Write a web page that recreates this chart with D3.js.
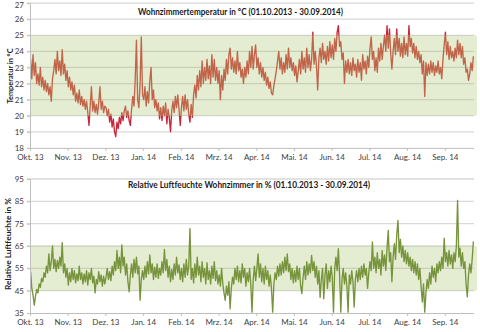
<!DOCTYPE html>
<html><head><meta charset="utf-8">
<script src="https://cdn.jsdelivr.net/npm/d3@7/dist/d3.min.js"></script>
<style>
body{margin:0;background:#fff}
svg{display:block}
text{font-family:Lato,"Open Sans","Liberation Sans",sans-serif}
</style></head>
<body><svg width="480" height="332"></svg>
<script>
// ---- data ----
const monthLabels = ["Okt. 13","Nov. 13","Dez. 13","Jan. 14","Feb. 14","Mrz. 14","Apr. 14","Mai. 14","Jun. 14","Jul. 14","Aug. 14","Sep. 14"];
const tickDays = [0,31,62,93,124,155,186,217,248,279,310,341];
const tempTicks = [18,19,20,21,22,23,24,25,26,27];
const humTicks = [35,45,55,65,75,85,95];
const tempBand = [20,25];
const humBand = [45,65];
const tempTitle = "Wohnzimmertemperatur in °C (01.10.2013 - 30.09.2014)";
const humTitle = "Relative Luftfeuchte Wohnzimmer in % (01.10.2013 - 30.09.2014)";
const tempAxisTitle = "Temperatur in °C";
const humAxisTitle = "Relative Luftfeuchte in %";

// daily readings, one value per day from 01.10.2013
const temperature = [
23.5,22.3,23.8,22.5,23.3,22.0,22.6,21.9,23.0,21.8,22.4,21.6,22.2,21.5,22.0,21.3,21.8,20.9,22.3,22.8,23.5,22.6,24.0,22.8,23.4,22.5,24.1,22.6,23.2,22.2,22.8,
21.8,22.4,21.6,22.1,21.3,21.9,20.9,21.4,20.8,21.6,20.7,21.2,20.6,21.0,20.4,20.9,20.2,19.4,20.6,21.8,20.3,20.9,20.2,20.7,20.1,20.8,21.8,20.4,20.9,20.2,20.6,
20.5,20.0,20.4,19.6,20.1,19.3,19.8,19.0,18.7,19.6,19.2,19.9,19.5,20.2,19.7,20.3,20.6,19.9,20.3,19.7,19.4,20.4,21.2,20.6,22.3,24.7,21.0,20.5,22.0,24.9,21.3,
21.0,21.8,20.6,21.5,20.8,22.2,23.0,21.0,21.6,20.5,21.0,20.3,20.8,19.8,20.5,19.7,20.6,20.0,20.8,19.5,20.4,19.9,19.0,20.3,20.9,20.2,21.2,20.5,21.3,20.4,19.4,
20.5,21.2,20.3,21.3,20.4,21.0,20.1,19.6,20.7,19.9,21.3,21.9,21.1,22.5,21.6,22.8,21.8,23.4,22.0,23.0,22.2,23.5,22.3,23.1,22.0,23.8,22.4,23.5,22.2,23.0,22.0,
22.8,21.0,22.5,21.6,22.9,22.2,23.5,22.6,23.8,24.2,22.9,23.6,22.7,23.4,22.6,24.0,22.8,23.3,22.4,22.9,22.0,23.0,22.4,23.4,22.6,24.0,23.0,24.3,22.9,23.8,24.4,
23.0,23.6,22.6,23.3,22.4,23.0,22.2,22.7,21.9,22.4,21.7,22.1,21.4,21.3,21.9,22.3,22.8,23.4,24.0,22.9,23.6,22.6,23.3,22.7,23.8,22.9,24.2,23.0,23.6,22.8,23.3,
22.5,23.1,22.1,22.8,23.5,22.6,24.0,22.9,23.6,22.7,24.2,23.0,23.8,22.8,23.5,25.2,23.2,24.0,23.1,21.6,23.6,24.2,23.3,24.5,23.5,24.0,23.2,24.3,23.4,24.6,23.6,
24.4,23.5,24.8,24.0,25.2,25.6,24.3,24.6,23.5,23.9,22.0,23.4,22.7,23.5,22.6,23.3,22.5,23.6,22.8,23.2,22.4,23.5,22.7,23.3,22.2,23.8,22.9,23.4,22.6,23.7,23.0,
24.2,24.9,23.5,24.0,22.8,23.6,22.7,24.2,23.4,24.5,23.5,24.3,25.0,24.0,25.6,24.2,25.4,23.9,22.9,24.0,24.8,23.8,25.4,24.0,24.8,23.7,24.5,23.6,24.9,23.8,24.5,
23.7,25.6,24.3,24.8,23.9,24.5,23.6,24.3,23.5,24.0,23.3,23.8,22.6,23.4,21.2,23.3,22.5,23.2,22.6,23.4,22.7,23.3,22.5,23.1,22.7,23.4,22.6,23.0,22.3,23.5,24.4,
25.2,23.8,24.6,23.5,24.3,23.6,24.0,23.4,24.2,23.6,24.7,23.8,24.5,23.6,24.3,23.2,23.6,22.7,22.9,22.2,22.6,23.3,22.8,23.7
];
const humidity = [
53.5,46,43,38.5,42.5,45.5,44,48,46.5,50.5,49,53,51,56,53,61.5,54,58,65,55,59,53.5,58.5,55,60,56,66.5,53,57,51,55,
47.5,53,49,55,50,54,48.5,52.5,49.5,56,50,53,48,52.5,49,54,47.5,53,50,55,48.5,51.5,44,50,48,53.5,49,52,47,51.5,48,
51,55,50,53.5,49.5,56,52,58,54,63,55,60,53,65.5,56,60,52,57,49,44.5,52,57,51,59,53,60,52.5,56,40.7,50,54,
50,56,51,58,52.5,61,53,57,50,55.5,51,57,50.5,55,52,58,53,63.5,54,59,51,56,49,54.5,50,57,52,60,53,56.5,50,
55,49,57,51,59,52,56,72.8,50,55,48.5,57,51,60,52,56,49,58,51,55,48,57.5,50,54,48,56,50.5,58,49.5,54,48,
52,47,55,48,44,40.7,47,43,49,36.9,46,51,48,55,50,56,49,54,48.5,57,51,55,47,53,49,55,48,35.4,50,56,49.5,
55,61.5,51,57,49,55,48,56,50,54,47,52,46,35.4,48,53,50,56,51.5,57,52,58,53,60,54,61.5,53.5,57,50,55,48.5,
54,49,56,50,55,47,43.7,51,56,50,58,52,57,53,60.8,54,58,51,56,48,54,42,50,55,41.4,52,57,46,54,49,56,
51,35.4,55,60,54,63.8,52,35.4,50,55,48,53,47,35.4,52,48,54,49,37.7,50,54,49,55,50,56,51,57,52,55,46,53,
58,54,66.8,55,60,53,62,55,59,52,63,56,61,54,64,72,58,62,49,60,66,59,70,76.5,62,68,60,65,58,63,57,
62,56,60,54,59,53,58,52,57,50,55,47,40,48,35.4,44,50,46,53,48,56,51,55,49,57,53,58,54,60,55,68.5,
58,62,56,63,57,61,55,62,58,65,85.4,60,64,56,62,55,58,48,42.2,52,57,53,59,67
];

// ---- drawing ----
const svg = d3.select("svg");
const x = d3.scaleLinear().domain([0, 365]).range([30, 474]);

function panel(cfg) {
  const y = d3.scaleLinear().domain(d3.extent(cfg.ticks)).range(cfg.yRange);
  const g = svg.append("g");
  const bot = y(cfg.ticks[0]);

  // gridlines
  g.selectAll("line.grid").data(cfg.ticks.slice(1)).join("line")
    .attr("x1", 27).attr("x2", x(365))
    .attr("y1", d => y(d)).attr("y2", d => y(d))
    .attr("stroke", "#d9d9d9").attr("stroke-width", 1.3);

  // comfort band
  g.append("rect")
    .attr("x", x(0)).attr("width", x(365) - x(0) + 3)
    .attr("y", y(cfg.band[1])).attr("height", y(cfg.band[0]) - y(cfg.band[1]))
    .attr("fill", "rgba(155,187,89,0.27)");

  const line = d3.line().x((d, i) => x(i + 0.5)).y(d => y(d));
  const sw = 1.35;

  if (cfg.outColor) {
    const idIn = cfg.id + "in", idOut = cfg.id + "out";
    const defs = svg.append("defs");
    defs.append("clipPath").attr("id", idIn).append("rect")
      .attr("x", 0).attr("width", 480)
      .attr("y", y(cfg.band[1])).attr("height", y(cfg.band[0]) - y(cfg.band[1]));
    const co = defs.append("clipPath").attr("id", idOut);
    co.append("rect").attr("x", 0).attr("width", 480).attr("y", 0).attr("height", y(cfg.band[1]));
    co.append("rect").attr("x", 0).attr("width", 480).attr("y", y(cfg.band[0])).attr("height", 332 - y(cfg.band[0]));
    g.append("path").datum(cfg.values).attr("d", line).attr("fill", "none")
      .attr("stroke", cfg.color).attr("stroke-width", sw).attr("stroke-linejoin", "round")
      .attr("clip-path", `url(#${idIn})`);
    g.append("path").datum(cfg.values).attr("d", line).attr("fill", "none")
      .attr("stroke", cfg.outColor).attr("stroke-width", sw).attr("stroke-linejoin", "round")
      .attr("clip-path", `url(#${idOut})`);
  } else {
    g.append("path").datum(cfg.values).attr("d", line).attr("fill", "none")
      .attr("stroke", cfg.color).attr("stroke-width", sw).attr("stroke-linejoin", "round");
  }

  // y axis
  const ya = g.append("g").attr("transform", `translate(${x(0)},0)`)
    .call(d3.axisLeft(y).tickValues(cfg.ticks).tickSize(3).tickPadding(3).tickFormat(d3.format("d")));
  ya.select(".domain").attr("stroke", "#bfbfbf");
  ya.selectAll(".tick line").attr("stroke", "#bfbfbf");
  ya.selectAll("text").attr("font-size", 8).attr("fill", "#404040")
    .attr("dy", d => (y(d) < 6 ? "0.55em" : "0.32em"));

  // x axis
  const xa = g.append("g").attr("transform", `translate(0,${bot})`)
    .call(d3.axisBottom(x).tickValues(tickDays).tickSize(3).tickPadding(3)
      .tickFormat((d, i) => monthLabels[i]));
  xa.select(".domain").attr("stroke", "#bfbfbf").attr("d", `M${x(0)},0.5H${x(365)}`);
  xa.selectAll(".tick line").attr("stroke", "#bfbfbf");
  xa.selectAll("text").attr("font-size", 8).attr("fill", "#404040");

  // titles
  g.append("text").attr("x", cfg.titleX).attr("y", cfg.titleY)
    .attr("text-anchor", "middle").attr("font-size", 8.6).attr("font-weight", "bold")
    .attr("fill", "#1a1a1a").attr("textLength", cfg.titleW).attr("lengthAdjust", "spacingAndGlyphs")
    .text(cfg.title);
  g.append("text").attr("transform", `translate(${cfg.axisTitleX},${cfg.axisTitleY}) rotate(-90)`)
    .attr("text-anchor", "middle").attr("font-size", 8.3).attr("font-weight", "bold")
    .attr("fill", "#1a1a1a").attr("textLength", cfg.axisTitleW).attr("lengthAdjust", "spacingAndGlyphs")
    .text(cfg.axisTitle);
}

panel({
  id: "t", ticks: tempTicks, yRange: [147.9, 3.1], band: tempBand, values: temperature,
  color: "#c0654a", outColor: "#c8283c",
  title: tempTitle, titleX: 240.5, titleY: 15, titleW: 205,
  axisTitle: tempAxisTitle, axisTitleX: 12.5, axisTitleY: 76, axisTitleW: 55
});
panel({
  id: "h", ticks: humTicks, yRange: [313, 179], band: humBand, values: humidity,
  color: "#77933c",
  title: humTitle, titleX: 249, titleY: 188, titleW: 242,
  axisTitle: humAxisTitle, axisTitleX: 10.5, axisTitleY: 244, axisTitleW: 92
});
</script>
</body></html>
